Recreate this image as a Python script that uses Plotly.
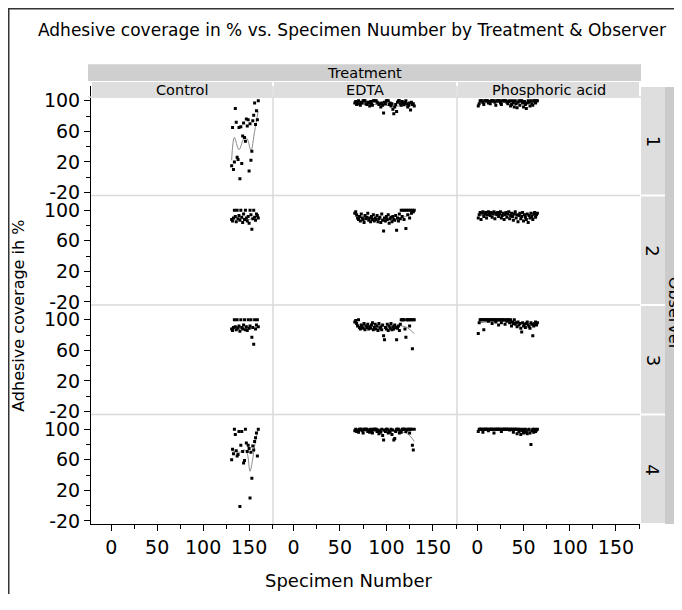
import plotly.graph_objects as go

# ---------------- data ----------------
treatments = ["Control", "EDTA", "Phosphoric acid"]
observers = ["1", "2", "3", "4"]

control_spec = list(range(131, 161))
edta_spec = list(range(66, 131))
phos_spec = list(range(1, 66))

control_1 = [15, 65, 10, 20, 90, 72, 26, 23, 65, -2, 66, 18, 54, 71, 52, 47, 76, 67, 75, 8,
             70, 22, 34, 74, 81, 97, 69, 87, 75, 100]
control_2 = [88, 86, 90, 100, 92, 85, 100, 89, 93, 87, 100, 91, 84, 95, 88, 100, 90, 86, 92, 83,
             100, 94, 75, 89, 100, 91, 87, 95, 93, 90]
control_3 = [88, 86, 90, 100, 91, 87, 100, 89, 92, 85, 100, 90, 88, 93, 100, 87, 91, 86, 100, 89,
             92, 100, 77, 90, 68, 100, 88, 93, 100, 91]
control_4 = [60, 74, 68, 100, 93, 72, 65, 67, 97, -1, 79, 97, 71, 56, 59, 100, 82, 71, 79, 75,
             10, 70, 36, 78, 73, 84, 89, 95, 65, 100]

edta_1 = [97, 99, 95, 98, 100, 96, 94, 98, 97, 100, 100, 100, 96, 95, 98, 97, 93, 99, 96, 94,
          100, 100, 100, 100, 98, 97, 95, 96, 92, 97, 94, 84, 98, 96, 100, 100, 100, 95, 97, 93,
          96, 89, 83, 92, 95, 86, 98, 100, 100, 96, 94, 99, 97, 95, 98, 100, 96, 92, 94, 97,
          88, 98, 95, 96, 93]
edta_2 = [96, 98, 94, 90, 88, 92, 86, 95, 90, 88, 84, 93, 89, 91, 96, 87, 90, 85, 92, 88,
          94, 86, 90, 88, 93, 85, 89, 91, 84, 95, 87, 73, 90, 86, 92, 88, 94, 83, 89, 91,
          85, 92, 88, 87, 93, 74, 90, 86, 95, 89, 100, 92, 100, 88, 100, 76, 100, 94, 100, 90,
          100, 96, 100, 98, 100]
edta_3 = [97, 99, 95, 92, 100, 90, 88, 93, 91, 89, 95, 87, 92, 90, 94, 88, 91, 89, 93, 96,
          87, 90, 94, 88, 92, 86, 95, 89, 91, 87, 93, 79, 74, 90, 88, 94, 86, 92, 89, 95,
          87, 91, 88, 93, 90, 74, 89, 92, 86, 94, 100, 100, 100, 100, 88, 77, 100, 100, 100, 92,
          100, 100, 62, 100, 100]
edta_4 = [98, 100, 97, 99, 96, 100, 100, 100, 98, 95, 100, 100, 100, 100, 97, 99, 96, 100, 98, 95,
          100, 100, 100, 100, 97, 99, 94, 98, 96, 100, 92, 86, 99, 97, 100, 100, 95, 98, 96, 100,
          93, 99, 86, 88, 97, 100, 100, 100, 95, 98, 96, 100, 100, 100, 100, 97, 99, 100, 100, 95,
          100, 100, 79, 73, 100]

phos_1 = [93, 96, 100, 100, 100, 98, 95, 100, 100, 100, 100, 97, 99, 96, 100, 100, 100, 100, 98, 94,
          100, 100, 100, 100, 97, 95, 100, 100, 100, 100, 100, 98, 96, 99, 100, 93, 95, 100, 97, 92,
          100, 96, 91, 98, 100, 94, 100, 100, 97, 92, 99, 95, 90, 97, 100, 98, 93, 100, 96, 94,
          100, 100, 97, 100, 100]
phos_2 = [90, 94, 97, 88, 96, 98, 92, 95, 97, 90, 94, 98, 96, 93, 97, 91, 95, 98, 89, 96,
          94, 97, 92, 95, 98, 90, 93, 96, 88, 94, 97, 91, 95, 98, 89, 93, 96, 92, 87, 95,
          98, 90, 94, 85, 93, 96, 89, 92, 97, 86, 94, 91, 88, 95, 84, 93, 90, 96, 92, 88,
          95, 97, 91, 94, 96]
phos_3 = [82, 96, 100, 100, 100, 100, 87, 100, 100, 100, 100, 98, 100, 100, 100, 95, 100, 100, 100, 97,
          100, 100, 93, 100, 100, 96, 100, 100, 100, 94, 100, 98, 100, 100, 96, 100, 92, 97, 95, 100,
          94, 96, 91, 97, 93, 95, 89, 84, 96, 92, 94, 90, 95, 97, 93, 91, 89, 96, 94, 79,
          92, 95, 97, 93, 96]
phos_4 = [97, 100, 100, 100, 100, 96, 100, 100, 100, 100, 100, 98, 100, 100, 100, 100, 100, 95, 100, 100,
          100, 100, 100, 100, 100, 97, 100, 100, 100, 100, 100, 100, 100, 100, 99, 100, 100, 100, 96, 100,
          100, 100, 94, 100, 97, 100, 93, 98, 100, 95, 97, 100, 96, 94, 99, 100, 95, 80, 98, 100,
          96, 100, 97, 99, 100]

# smoother curves (x, y)
smooth_control_1_x = [131, 134, 139, 145, 148, 152, 156, 160]
smooth_control_1_y = [22, 52, 36, 52, 50, 35, 60, 87]
smooth_control_2_x = [131, 140, 150, 160]
smooth_control_2_y = [88, 89, 88, 92]
smooth_control_3_x = [131, 140, 150, 160]
smooth_control_3_y = [90, 91, 88, 90]
smooth_control_4_x = [131, 140, 145, 148, 151, 154, 157, 160]
smooth_control_4_y = [72, 70, 73, 68, 45, 62, 85, 100]
smooth_edta_1_x = [66, 90, 110, 130]
smooth_edta_1_y = [96, 95, 93, 94]
smooth_edta_2_x = [66, 90, 110, 130]
smooth_edta_2_y = [92, 89, 88, 97]
smooth_edta_3_x = [66, 90, 115, 122, 130]
smooth_edta_3_y = [94, 91, 92, 90, 82]
smooth_edta_4_x = [66, 90, 115, 124, 130]
smooth_edta_4_y = [98, 97, 97, 93, 84]
smooth_phos_1_x = [1, 30, 65]
smooth_phos_1_y = [97, 98, 97]
smooth_phos_2_x = [1, 30, 65]
smooth_phos_2_y = [93, 94, 93]
smooth_phos_3_x = [1, 30, 65]
smooth_phos_3_y = [96, 98, 93]
smooth_phos_4_x = [1, 30, 65]
smooth_phos_4_y = [99, 99, 97]

x_tick_vals = [0, 50, 100, 150]
x_tick_text = ["0", "50", "100", "150"]
y_tick_vals = [-20, 20, 60, 100]
y_tick_text = ["-20", "20", "60", "100"]

# ---------------- layout geometry ----------------
# page has an 8px body margin on every side: figure occupies page (8..682, 8..602)
OFF = 8
W, H = 674, 594
FONT = "DejaVu Sans"


def fx(px):
    return (px - OFF) / W


def fy(py):
    return 1 - (py - OFF) / H


col_px = [(91, 273), (273, 457), (457, 640)]
row_px = [(87, 198), (198, 309), (309, 420), (420, 531)]

spec_by_col = [control_spec, edta_spec, phos_spec]
values = [
    [control_1, edta_1, phos_1],
    [control_2, edta_2, phos_2],
    [control_3, edta_3, phos_3],
    [control_4, edta_4, phos_4],
]
smooth = [
    [(smooth_control_1_x, smooth_control_1_y), (smooth_edta_1_x, smooth_edta_1_y), (smooth_phos_1_x, smooth_phos_1_y)],
    [(smooth_control_2_x, smooth_control_2_y), (smooth_edta_2_x, smooth_edta_2_y), (smooth_phos_2_x, smooth_phos_2_y)],
    [(smooth_control_3_x, smooth_control_3_y), (smooth_edta_3_x, smooth_edta_3_y), (smooth_phos_3_x, smooth_phos_3_y)],
    [(smooth_control_4_x, smooth_control_4_y), (smooth_edta_4_x, smooth_edta_4_y), (smooth_phos_4_x, smooth_phos_4_y)],
]

fig = go.Figure()
layout = {}
XR = [-22, 176]
YR = [-23.9, 119.4]

for r in range(4):
    for c in range(3):
        n = r * 3 + c + 1
        xa = "xaxis" if n == 1 else f"xaxis{n}"
        ya = "yaxis" if n == 1 else f"yaxis{n}"
        xref = "x" if n == 1 else f"x{n}"
        yref = "y" if n == 1 else f"y{n}"
        bottom = r == 3
        left = c == 0
        layout[xa] = dict(
            domain=[fx(col_px[c][0]), fx(col_px[c][1])], anchor=yref, range=XR,
            showgrid=False, zeroline=False,
            showline=bottom, linecolor="black", linewidth=1,
            ticks="outside" if bottom else "", ticklen=6, tickcolor="black",
            tickvals=x_tick_vals, ticktext=x_tick_text, showticklabels=bottom,
            tickfont=dict(family=FONT, size=19, color="black"),
            minor=dict(tickvals=[25, 75, 125, 175], ticks="outside" if bottom else "",
                       ticklen=4, tickcolor="black"),
            fixedrange=True,
        )
        layout[ya] = dict(
            domain=[fy(row_px[r][1]), fy(row_px[r][0])], anchor=xref, range=YR,
            showgrid=False, zeroline=False,
            showline=left, linecolor="black", linewidth=1,
            ticks="outside" if left else "", ticklen=6, tickcolor="black",
            tickvals=y_tick_vals, ticktext=y_tick_text, showticklabels=left,
            tickfont=dict(family=FONT, size=19, color="black"),
            minor=dict(tickvals=[0, 40, 80], ticks="outside" if left else "",
                       ticklen=4, tickcolor="black"),
            fixedrange=True,
        )
        sx, sy = smooth[r][c]
        fig.add_trace(go.Scatter(
            x=sx, y=sy, mode="lines", line=dict(color="#8c8c8c", width=1, shape="spline"),
            xaxis=xref, yaxis=yref, showlegend=False, hoverinfo="skip"))
        fig.add_trace(go.Scatter(
            x=spec_by_col[c], y=values[r][c], mode="markers",
            marker=dict(symbol="square", size=3, color="black", line=dict(width=0)),
            xaxis=xref, yaxis=yref, showlegend=False))

shapes = []
for xpx in (273, 457):
    shapes.append(dict(type="line", xref="paper", yref="paper", x0=fx(xpx), x1=fx(xpx),
                       y0=fy(531), y1=fy(87), line=dict(color="#d9d9d9", width=1.5), layer="below"))
for ypx in (198, 309, 420):
    shapes.append(dict(type="line", xref="paper", yref="paper", x0=fx(91), x1=fx(640),
                       y0=fy(ypx), y1=fy(ypx), line=dict(color="#d9d9d9", width=1.5), layer="below"))
shapes.append(dict(type="rect", xref="paper", yref="paper", x0=fx(88), x1=fx(641),
                   y0=fy(82), y1=fy(65), fillcolor="#cfcfcf", line=dict(width=0), layer="above"))
for (a, b) in col_px:
    shapes.append(dict(type="rect", xref="paper", yref="paper", x0=fx(a + 1), x1=fx(b - 1),
                       y0=fy(99), y1=fy(83), fillcolor="#dedede", line=dict(width=0), layer="above"))
shapes.append(dict(type="rect", xref="paper", yref="paper", x0=fx(88), x1=fx(641),
                   y0=fy(99), y1=fy(97.5), fillcolor="#dedede", line=dict(width=0), layer="above"))
for (a, b) in row_px:
    shapes.append(dict(type="rect", xref="paper", yref="paper", x0=fx(641), x1=fx(665),
                       y0=fy(b - 1), y1=fy(a + 1), fillcolor="#dedede", line=dict(width=0)))
shapes.append(dict(type="rect", xref="paper", yref="paper", x0=fx(665), x1=fx(690),
                   y0=fy(531), y1=fy(88), fillcolor="#cbcbcb", line=dict(width=0)))
shapes.append(dict(type="line", xref="paper", yref="paper", x0=0.75 / W, x1=0.75 / W,
                   y0=0, y1=1, line=dict(color="#333333", width=1.5)))
shapes.append(dict(type="line", xref="paper", yref="paper", x0=0, x1=1,
                   y0=1 - 0.75 / H, y1=1 - 0.75 / H, line=dict(color="#333333", width=1.5)))

ann = []
ann.append(dict(text="Adhesive coverage in % vs. Specimen Nuumber by Treatment & Observer",
                x=fx(352), y=fy(30), xref="paper", yref="paper", showarrow=False,
                font=dict(family=FONT, size=17, color="black"), xanchor="center", yanchor="middle"))
ann.append(dict(text="Treatment", x=fx(364), y=fy(74), xref="paper", yref="paper", showarrow=False,
                font=dict(family=FONT, size=14.5, color="black"), xanchor="center", yanchor="middle"))
for (a, b), t in zip(col_px, treatments):
    ann.append(dict(text=t, x=fx((a + b) / 2), y=fy(91), xref="paper", yref="paper", showarrow=False,
                    font=dict(family=FONT, size=14.5, color="black"), xanchor="center", yanchor="middle"))
for (a, b), o in zip(row_px, observers):
    ann.append(dict(text=o, x=fx(653), y=fy((a + b) / 2), xref="paper", yref="paper", showarrow=False,
                    textangle=90, font=dict(family=FONT, size=18, color="black"),
                    xanchor="center", yanchor="middle"))
ann.append(dict(text="Observer", x=fx(674), y=fy(318), xref="paper", yref="paper", showarrow=False,
                textangle=90, font=dict(family=FONT, size=16, color="black"),
                xanchor="center", yanchor="middle"))
ann.append(dict(text="Adhesive coverage ih %", x=fx(19), y=fy(320), xref="paper", yref="paper",
                showarrow=False, textangle=-90, font=dict(family=FONT, size=16, color="black"),
                xanchor="center", yanchor="middle"))
ann.append(dict(text="Specimen Number", x=fx(348), y=fy(588), xref="paper", yref="paper",
                showarrow=False, font=dict(family=FONT, size=18, color="black"),
                xanchor="center", yanchor="middle"))

fig.update_layout(
    width=W, height=H, margin=dict(l=0, r=0, t=0, b=0),
    paper_bgcolor="white", plot_bgcolor="white",
    shapes=shapes, annotations=ann, showlegend=False,
    **layout,
)

fig.write_html("out.html")
